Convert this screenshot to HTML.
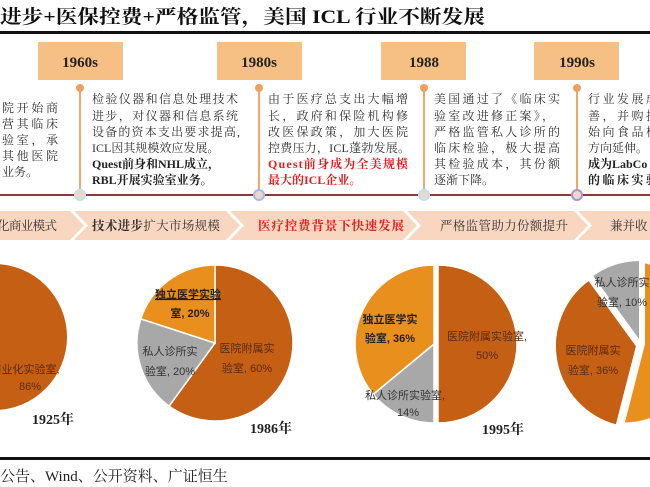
<!DOCTYPE html>
<html><head><meta charset="utf-8"><style>
html,body{margin:0;padding:0;background:#fff;width:650px;height:487px;overflow:hidden}
svg{display:block}
.s{font-family:"Liberation Serif","Noto Serif CJK SC",serif}
.a{font-family:"Liberation Sans","Noto Sans CJK SC",sans-serif}
</style></head><body>
<svg width="650" height="487" viewBox="0 0 650 487" xmlns="http://www.w3.org/2000/svg">
<text x="0" y="23" class="s" font-size="19" font-weight="bold" fill="#111" textLength="485" lengthAdjust="spacingAndGlyphs">进步+医保控费+严格监管，美国 ICL 行业不断发展</text>
<rect x="0" y="31" width="650" height="3" fill="#111"/>
<g fill="#f6c084">
<rect x="38" y="42" width="85" height="38"/><rect x="217" y="42" width="85" height="38"/>
<rect x="381" y="42" width="85" height="38"/><rect x="534" y="42" width="85" height="38"/>
</g>
<g class="s" font-size="15" font-weight="bold" fill="#222" text-anchor="middle">
<text x="80" y="67">1960s</text><text x="259" y="67">1980s</text><text x="424" y="67">1988</text><text x="577" y="67">1990s</text>
</g>
<g stroke="#f0a868" stroke-width="2">
<line x1="80" y1="88" x2="80" y2="193"/><line x1="259" y1="88" x2="259" y2="193"/>
<line x1="424" y1="88" x2="424" y2="193"/><line x1="577" y1="88" x2="577" y2="193"/>
</g>
<g fill="#eea060"><circle cx="80" cy="88" r="4"/><circle cx="259" cy="88" r="4"/><circle cx="424" cy="88" r="4"/><circle cx="577" cy="88" r="4"/></g>
<rect x="0" y="194" width="650" height="2" fill="#8a3a3a"/>
<g stroke-width="2" fill="#e8d8d0">
<circle cx="80" cy="195" r="5" stroke="#bfe0ee"/><circle cx="259" cy="195" r="5" stroke="#a8b8e0"/>
<circle cx="424" cy="195" r="5" stroke="#bfe0ee"/><circle cx="577" cy="195" r="5" stroke="#b090c8"/>
</g>
<g class="s" font-size="12" fill="#333">
<text x="2" y="112" textLength="56">院开始商</text>
<text x="2" y="128" textLength="56">营其临床</text>
<text x="2" y="144" textLength="56">验室，承</text>
<text x="2" y="160" textLength="56">其他医院</text>
<text x="2" y="176">业务。</text>
<text x="92" y="103" textLength="146">检验仪器和信息处理技术</text>
<text x="92" y="120" textLength="146">进步，对仪器和信息系统</text>
<text x="92" y="136" textLength="148">设备的资本支出要求提高,</text>
<text x="92" y="152">ICL因其规模效应发展。</text>
<text x="92" y="168" font-weight="bold" fill="#222">Quest前身和NHL成立，</text>
<text x="92" y="184" font-weight="bold" fill="#222">RBL开展实验室业务。</text>
<text x="268" y="103" textLength="140">由于医疗总支出大幅增</text>
<text x="268" y="120" textLength="140">长，政府和保险机构修</text>
<text x="268" y="136" textLength="140">改医保政策，加大医院</text>
<text x="268" y="152" textLength="142">控费压力，ICL蓬勃发展。</text>
<text x="268" y="168" font-weight="bold" fill="#e02020" textLength="140">Quest前身成为全美规模</text>
<text x="268" y="184" font-weight="bold" fill="#e02020">最大的ICL企业。</text>
<text x="434" y="103" textLength="126">美国通过了《临床实</text>
<text x="434" y="120" textLength="120">验室改进修正案》，</text>
<text x="434" y="136" textLength="126">严格监管私人诊所的</text>
<text x="434" y="152" textLength="126">临床检验，极大提高</text>
<text x="434" y="168" textLength="126">其检验成本，其份额</text>
<text x="434" y="184">逐渐下降。</text>
<text x="588" y="103" textLength="70">行业发展成</text>
<text x="588" y="120" textLength="70">善，并购提</text>
<text x="588" y="136" textLength="70">始向食品检</text>
<text x="588" y="152">方向延伸。</text>
<text x="588" y="168" font-weight="bold" fill="#222">成为LabCo</text>
<text x="588" y="184" font-weight="bold" fill="#222" textLength="70">的临床实验</text>
</g>
<g fill="#f8d6bf">
<polygon points="0,211 70,211 84,225.5 70,240 0,240"/>
<polygon points="74,211 226,211 240,225.5 226,240 74,240 88,225.5"/>
<polygon points="230,211 403,211 417,225.5 403,240 230,240 244,225.5"/>
<polygon points="407,211 574,211 588,225.5 574,240 407,240 421,225.5"/>
<polygon points="578,211 650,211 650,240 578,240 592,225.5"/>
</g>
<g class="s" font-size="12.5" fill="#333">
<text x="-3" y="230" textLength="60">化商业模式</text>
<text x="92" y="230" textLength="128"><tspan font-weight="bold">技术进步</tspan>扩大市场规模</text>
<text x="258" y="230" fill="#e02020" font-weight="bold" textLength="146">医疗控费背景下快速发展</text>
<text x="440" y="230" textLength="128">严格监管助力份额提升</text>
<text x="610" y="230">兼并收</text>
</g>
<!-- pie1 -->
<circle cx="-6" cy="337" r="73" fill="#c55f14"/>
<!-- pie2 -->
<g stroke="#fff" stroke-width="1.5">
<path d="M215,343 L215,265 A78,78 0 1 1 169.1,406.1 Z" fill="#c55f14"/>
<path d="M215,343 L169.1,406.1 A78,78 0 0 1 140.8,318.9 Z" fill="#a8a8a8"/>
<path d="M215,343 L140.8,318.9 A78,78 0 0 1 215,265 Z" fill="#e98f1e"/>
</g>
<!-- pie3 -->
<g stroke="#fff" stroke-width="1.5">
<path d="M438,344 L438,265 A79,79 0 0 1 438,423 Z" fill="#c55f14"/>
<path d="M434,344 L434,423 A79,79 0 0 1 373.2,394.3 Z" fill="#a8a8a8"/>
<path d="M434,344 L373.2,394.3 A79,79 0 0 1 434,265 Z" fill="#e98f1e"/>
</g>
<!-- pie4 -->
<g stroke="#fff" stroke-width="2">
<path d="M644,344 L644,262 A82,82 0 0 1 623.6,423.5 Z" fill="#e98f1e"/>
<path d="M637,346 L616.6,425.5 A82,82 0 0 1 588.8,279.7 Z" fill="#c55f14"/>
<path d="M640,342 L591.8,275.7 A82,82 0 0 1 640,260 Z" fill="#a8a8a8"/>
</g>
<g class="a" font-size="11" fill="#5a2a10" text-anchor="middle">
<text x="25" y="373">商业化实验室,</text><text x="30" y="390">86%</text>
<text x="188" y="298" font-weight="bold" fill="#222" text-decoration="underline">独立医学实验</text>
<text x="190" y="317" font-weight="bold" fill="#222">室, 20%</text>
<text x="170" y="355" fill="#333">私人诊所实</text><text x="170" y="375" fill="#333">验室, 20%</text>
<text x="247" y="352">医院附属实</text><text x="247" y="372">验室, 60%</text>
<text x="390" y="323" font-weight="bold" fill="#222">独立医学实</text>
<text x="390" y="342" font-weight="bold" fill="#222">验室, 36%</text>
<text x="487" y="340">医院附属实验室,</text><text x="487" y="359">50%</text>
<text x="405" y="399" fill="#333">私人诊所实验室,</text><text x="408" y="416" fill="#333">14%</text>
<text x="622" y="286" fill="#333">私人诊所实</text><text x="622" y="306" fill="#333">验室, 10%</text>
<text x="593" y="354">医院附属实</text><text x="593" y="374">验室, 36%</text>
</g>
<g class="s" font-size="14" font-weight="bold" fill="#222">
<text x="32" y="424">1925年</text><text x="250" y="433">1986年</text><text x="482" y="434">1995年</text>
</g>
<rect x="0" y="457" width="650" height="3" fill="#111"/>
<text x="0" y="481" class="s" font-size="15" fill="#222">公告、Wind、公开资料、广证恒生</text>
</svg>
</body></html>
